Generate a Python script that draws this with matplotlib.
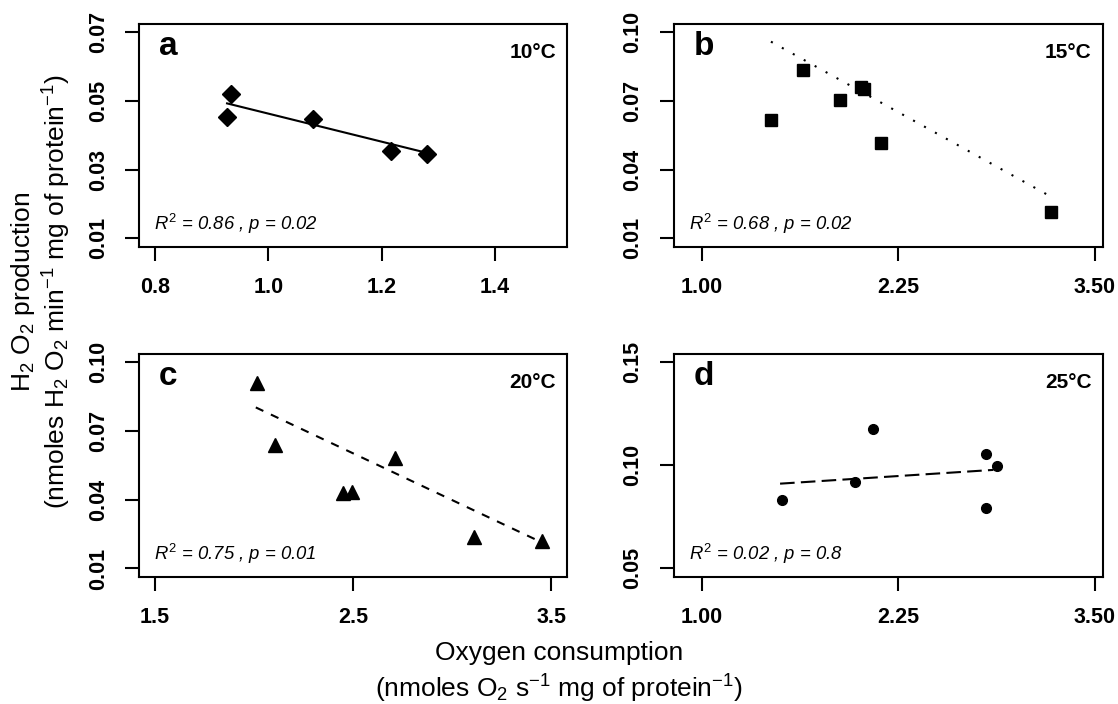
import matplotlib
matplotlib.use('Agg')
import matplotlib.pyplot as plt

plt.rcParams['font.family'] = 'Liberation Sans'
plt.rcParams['mathtext.fontset'] = 'custom'
plt.rcParams['mathtext.rm'] = 'Liberation Sans'
plt.rcParams['mathtext.it'] = 'Liberation Sans:italic'
plt.rcParams['mathtext.bf'] = 'Liberation Sans:bold'

# panel a, 10°C
a_x = [0.927, 0.934, 1.078, 1.216, 1.280]
a_y = [0.0454, 0.0519, 0.0448, 0.0353, 0.0346]
a_fit_x = [0.927, 1.280]
a_fit_y = [0.0493, 0.0349]

# panel b, 15°C
b_x = [1.44, 1.644, 1.879, 2.011, 2.034, 2.138, 3.221]
b_y = [0.0619, 0.0834, 0.0703, 0.0763, 0.0754, 0.0517, 0.0216]
b_fit_x = [1.44, 3.20]
b_fit_y = [0.0959, 0.0290]

# panel c, 20°C
c_x = [2.013, 2.105, 2.450, 2.492, 2.713, 3.111, 3.450]
c_y = [0.0911, 0.0638, 0.0429, 0.0433, 0.0584, 0.0239, 0.0218]
c_fit_x = [2.008, 3.441]
c_fit_y = [0.0803, 0.0218]

# panel d, 25°C
d_x = [1.509, 1.975, 2.091, 2.807, 2.875, 2.807]
d_y = [0.0829, 0.0916, 0.1175, 0.1054, 0.0997, 0.0792]
d_fit_x = [1.498, 2.854]
d_fit_y = [0.0909, 0.0976]

a_xticks = [0.8, 1.0, 1.2, 1.4]
a_yticks = [0.01, 0.03, 0.05, 0.07]
b_xticks = [1.00, 2.25, 3.50]
b_yticks = [0.01, 0.04, 0.07, 0.10]
c_xticks = [1.5, 2.5, 3.5]
c_yticks = [0.01, 0.04, 0.07, 0.10]
d_xticks = [1.00, 2.25, 3.50]
d_yticks = [0.05, 0.10, 0.15]

letters = ['a', 'b', 'c', 'd']
temps = ['10°C', '15°C', '20°C', '25°C']
stats = [r'$R^2$ = 0.86 , p = 0.02', r'$R^2$ = 0.68 , p = 0.02',
         r'$R^2$ = 0.75 , p = 0.01', r'$R^2$ = 0.02 , p = 0.8']

panels = [
    dict(x=a_x, y=a_y, fx=a_fit_x, fy=a_fit_y, xt=a_xticks, yt=a_yticks, fmtx='%.1f', fmty='%.2f',
         xlim=(0.772, 1.528), ylim=(0.0076, 0.0724), marker='D', ms=9.5, ls='-',
         pos=[0.1246, 0.6496, 0.3828, 0.3163]),
    dict(x=b_x, y=b_y, fx=b_fit_x, fy=b_fit_y, xt=b_xticks, yt=b_yticks, fmtx='%.2f', fmty='%.2f',
         xlim=(0.824, 3.549), ylim=(0.0064, 0.1036), marker='s', ms=8, ls=(0, (1, 5)),
         pos=[0.6029, 0.6496, 0.3834, 0.3163]),
    dict(x=c_x, y=c_y, fx=c_fit_x, fy=c_fit_y, xt=c_xticks, yt=c_yticks, fmtx='%.1f', fmty='%.2f',
         xlim=(1.42, 3.58), ylim=(0.0064, 0.1036), marker='^', ms=10, ls=(0, (4, 4)),
         pos=[0.1246, 0.1808, 0.3828, 0.3163]),
    dict(x=d_x, y=d_y, fx=d_fit_x, fy=d_fit_y, xt=d_xticks, yt=d_yticks, fmtx='%.2f', fmty='%.2f',
         xlim=(0.824, 3.549), ylim=(0.0456, 0.154), marker='o', ms=7, ls=(0, (7, 3)),
         pos=[0.6029, 0.1808, 0.3834, 0.3163]),
]

fig = plt.figure(figsize=(11.18, 7.04), dpi=100)

for i, p in enumerate(panels):
    ax = fig.add_axes(p['pos'])
    ax.plot(p['x'], p['y'], linestyle='none', marker=p['marker'], ms=p['ms'], color='black')
    ax.plot(p['fx'], p['fy'], color='black', lw=1.5, linestyle=p['ls'])
    ax.set_xlim(p['xlim'])
    ax.set_ylim(p['ylim'])
    ax.set_xticks(p['xt'])
    ax.set_xticklabels([p['fmtx'] % v for v in p['xt']])
    ax.set_yticks(p['yt'])
    ax.set_yticklabels([p['fmty'] % v for v in p['yt']], rotation=90, va='center')
    ax.tick_params(length=10, width=1.5, pad=12, labelsize=15.5)
    for lab in ax.get_xticklabels() + ax.get_yticklabels():
        lab.set_fontweight('bold')
    for s in ax.spines.values():
        s.set_linewidth(1.5)
    ax.text(0.045, 0.90, letters[i], transform=ax.transAxes, fontsize=24,
            fontweight='bold', ha='left', va='center')
    ax.text(0.974, 0.874, temps[i], transform=ax.transAxes, fontsize=15,
            fontweight='bold', ha='right', va='center')
    ax.text(0.034, 0.10, stats[i], transform=ax.transAxes, fontsize=13.3,
            style='italic', ha='left', va='center')

fig.text(23 / 1118, 1 - 292 / 704, r'H$_2$ O$_2$ production', rotation=90,
         fontsize=19, ha='center', va='center')
fig.text(57 / 1118, 1 - 292 / 704, r'(nmoles H$_2$ O$_2$ min$^{-1}$ mg of protein$^{-1}$)', rotation=90,
         fontsize=19, ha='center', va='center')
fig.text(0.5, 1 - 653 / 704, 'Oxygen consumption', fontsize=19, ha='center', va='center')
fig.text(0.5, 1 - 689 / 704, r'(nmoles O$_2$ s$^{-1}$ mg of protein$^{-1}$)',
         fontsize=19, ha='center', va='center')

fig.savefig('out.png', dpi=100)
